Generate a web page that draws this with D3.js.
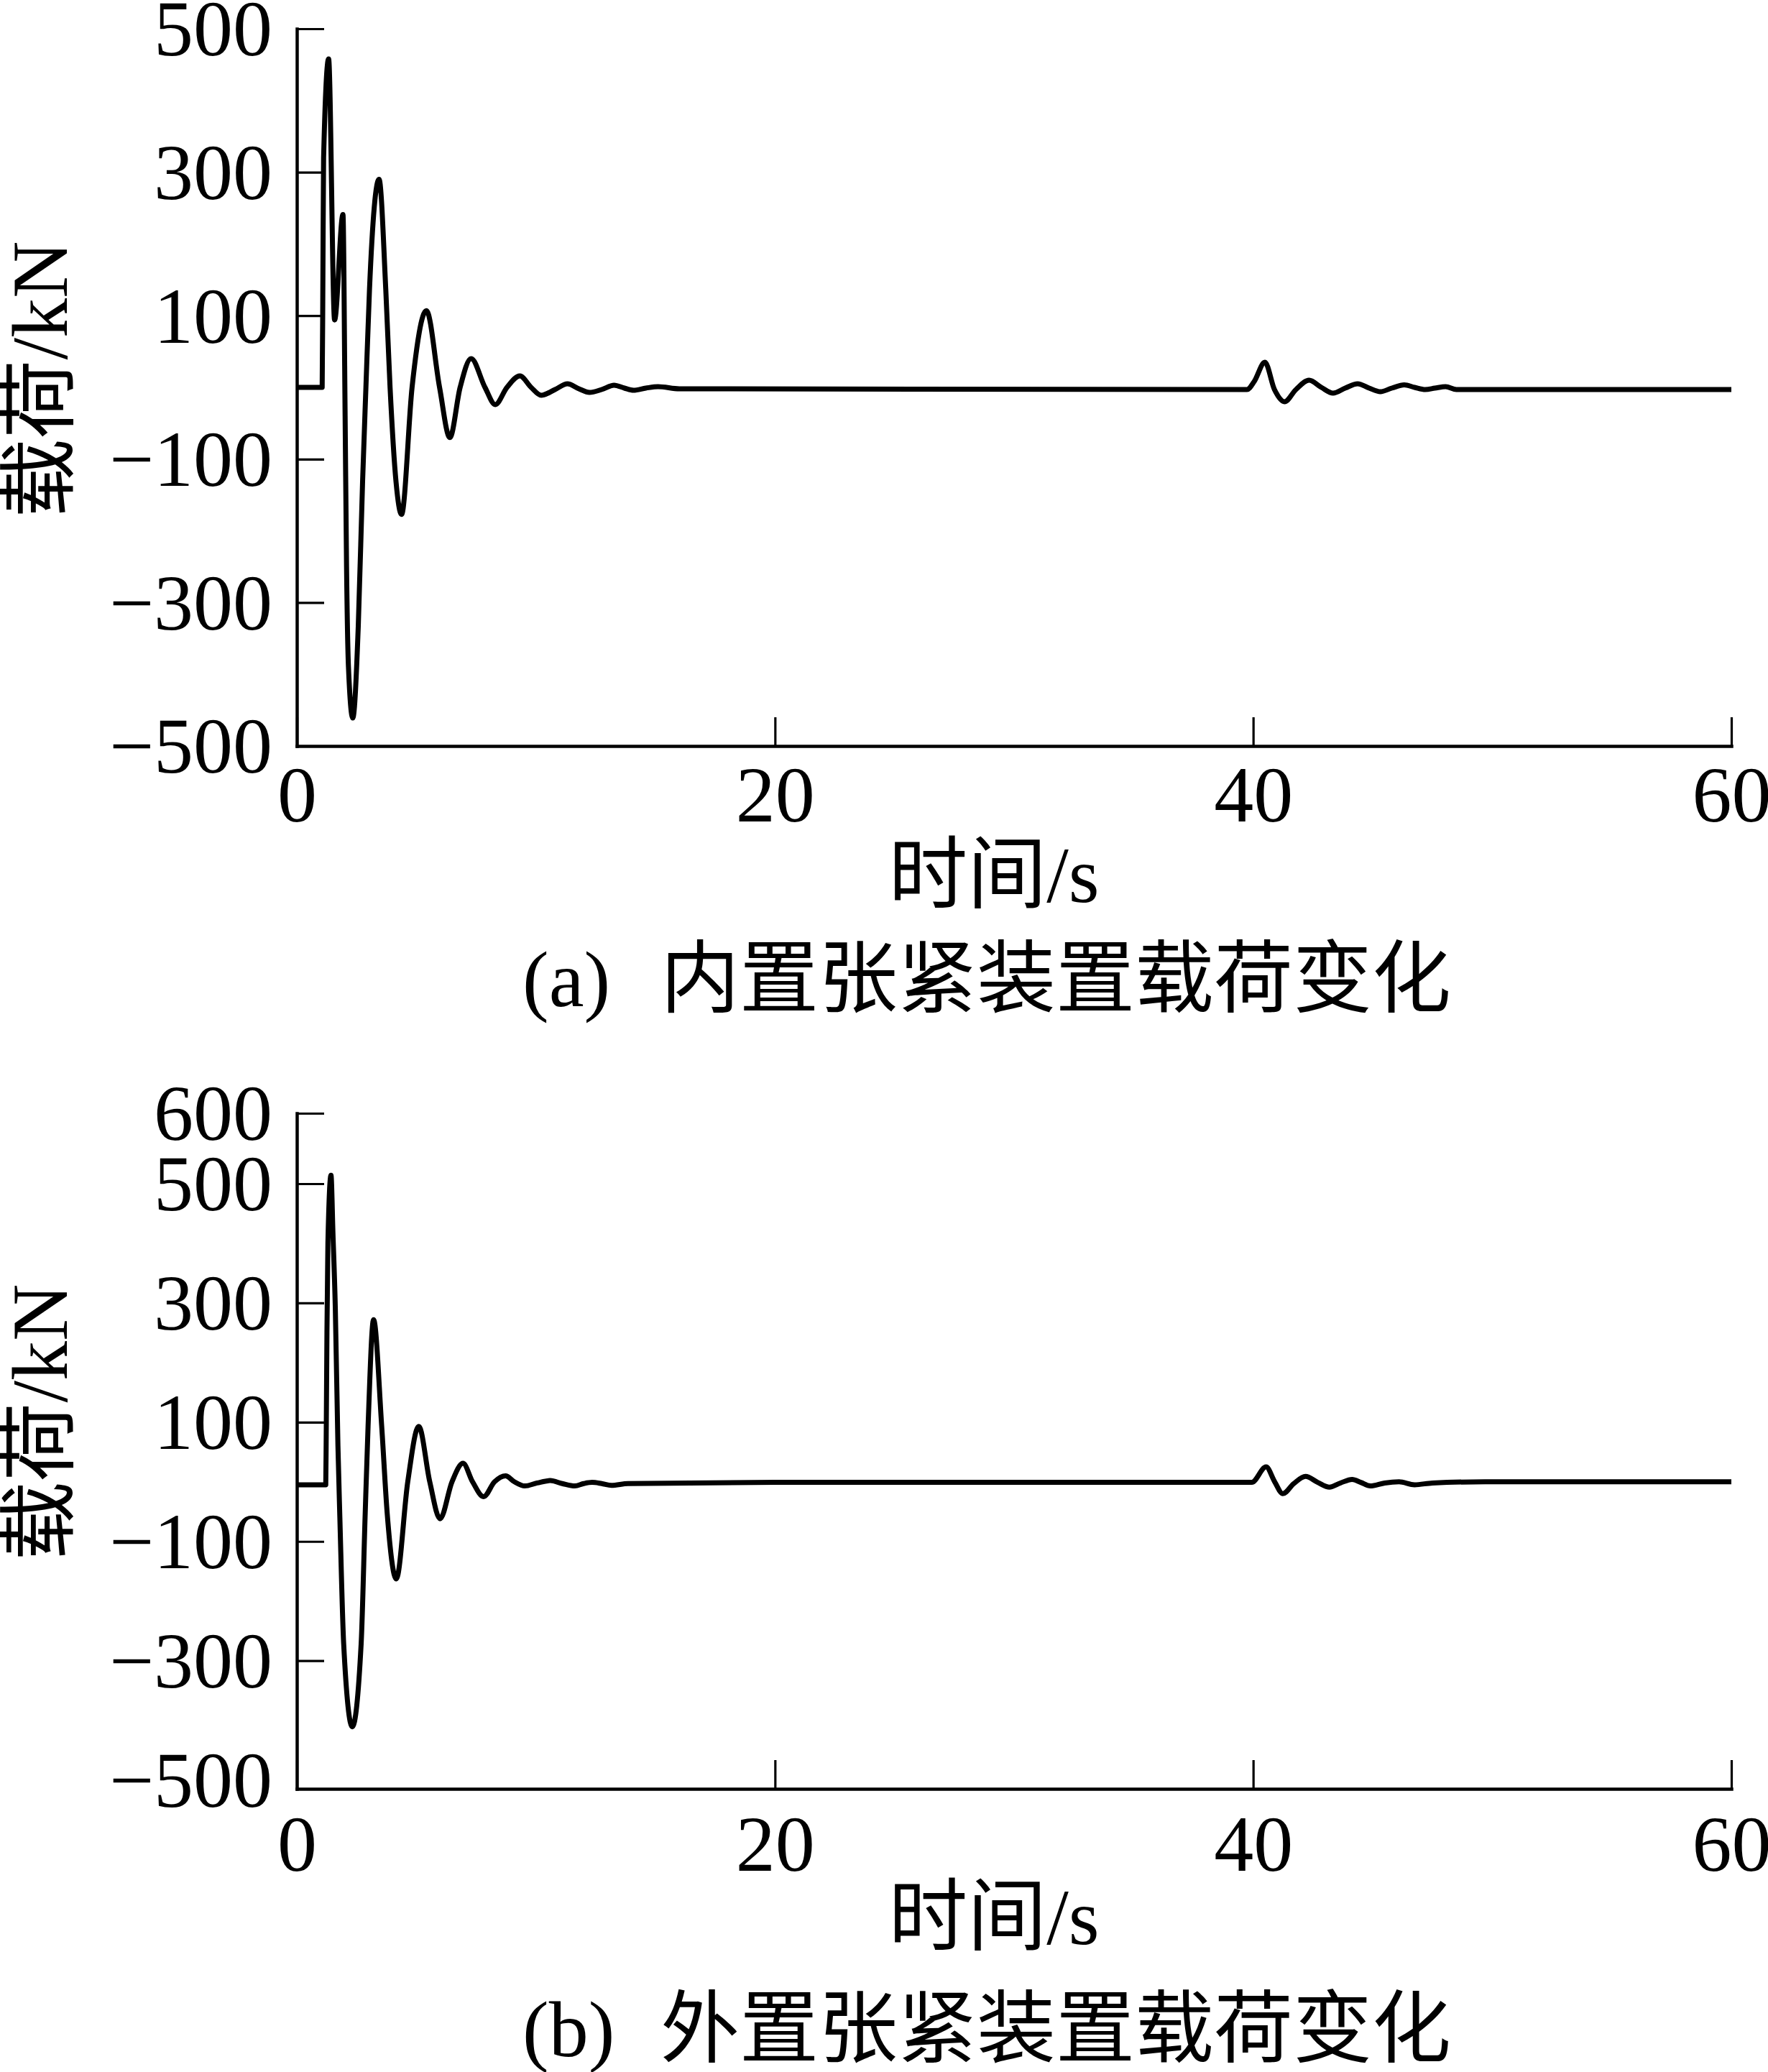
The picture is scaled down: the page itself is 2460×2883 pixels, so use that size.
<!DOCTYPE html>
<html><head><meta charset="utf-8">
<script src="https://cdn.jsdelivr.net/npm/d3@7"></script>
<style>body{margin:0;background:#fff} svg{display:block}</style>
</head><body>
<script>
// ---------- data ----------
const xTicks = [0, 20, 40, 60];
const xTickLabels = ["0", "20", "40", "60"];

const yTicksA = [-500, -300, -100, 100, 300, 500];
const yTickLabelsA = ["−500", "−300", "−100", "100", "300", "500"];
const yTickMarksA = [-300, -100, 100, 300, 500];

const yTicksB = [-500, -300, -100, 100, 300, 500, 600];
const yTickLabelsB = ["−500", "−300", "−100", "100", "300", "500", "600"];
const yTickMarksB = [-300, -100, 100, 300, 500, 600];

// (a) internal tensioner load, kN vs time, s
const timeA = [0, 1.06, 1.09, 1.12, 1.33, 1.58, 1.93, 2.02, 2.08, 2.16, 2.34, 2.57, 2.75, 2.89, 3.04, 3.44,
  3.72, 3.90, 4.15, 4.38, 4.82, 5.42, 5.97, 6.40, 6.83, 7.29, 7.87, 8.30, 8.79, 9.33, 9.80, 10.22,
  10.80, 11.32, 11.80, 12.24, 12.75, 13.27, 13.70, 14.08, 14.60, 15.11, 16.0,
  39.74, 40.04, 40.49, 40.89, 41.31, 41.79, 42.34, 42.85, 43.34, 43.85, 44.37, 44.85, 45.32, 45.8,
  46.32, 46.75, 47.2, 47.6, 48.05, 48.5, 60];
const loadA = [0, 0, 150, 320, 458, 94, 241, -40, -250, -390, -461, -333, -132, 0, 137, 290,
  137, 0, -132, -177, 0, 107, 0, -70, 0, 40, 0, -24, 0, 16, 0, -11,
  -3, 5, -2, -7, -3, 3, -1, -4, -1, 1, -2,
  -3, 8, 35, -3, -20, -3, 10, 0, -8, -1, 5, -1, -6, -1,
  3.5, 0, -3, -1, 1, -3, -3];

// (b) external tensioner load, kN vs time, s
const timeB = [0, 1.21, 1.23, 1.26, 1.30, 1.43, 1.51, 1.61, 1.72, 1.80, 1.96, 2.32, 2.69, 2.86, 2.98, 3.21,
  3.55, 3.78, 4.16, 4.64, 5.10, 5.56, 5.99, 6.49, 6.95, 7.35, 7.81, 8.27, 8.73, 9.10, 9.53, 10.05,
  10.60, 11.10, 11.63, 12.0, 12.35, 12.75, 13.16, 13.85, 20,
  39.94, 40.54, 40.90, 41.24, 41.70, 42.19, 42.70, 43.19, 43.65, 44.14, 44.5, 44.9, 45.5, 46.1,
  46.75, 47.5, 49.7, 60];
const loadB = [-5, -5, 80, 250, 400, 512, 418, 291, 60, -60, -272, -411, -272, -53, 93, 272,
  93, -53, -163, 0, 93, 0, -62, 0, 31, 0, -25, 0, 10, 0, -7, -2,
  2, -3, -7, -3, -1, -3, -6, -3, -1,
  -1, 25, 0, -20, -3, 9, -1, -9, -2, 4, -1, -7, -2, 0,
  -5, -2, 0, 0];

const xTitle = "时间/s";
const yTitle = "载荷/kN";
const captionTags = ["(a)", "(b)"];
const captionTexts = ["内置张紧装置载荷变化", "外置张紧装置载荷变化"];

// ---------- layout ----------
const W = 2460, H = 2883;
const serif = "'Liberation Serif','Times New Roman','Noto Sans CJK SC',serif";
const FS = 110;

const svg = d3.select("body").append("svg")
  .attr("width", W).attr("height", H)
  .attr("viewBox", `0 0 ${W} ${H}`);
svg.append("rect").attr("width", W).attr("height", H).attr("fill", "#fff");

const x = d3.scaleLinear().domain([0, 60]).range([413, 2409]);

const panels = [
  {
    time: timeA, load: loadA,
    y: d3.scaleLinear().domain([-500, 500]).range([1038, 40]),
    ticks: yTicksA, labels: yTickLabelsA, marks: yTickMarksA,
    axisY: 1038, xLabelBase: 1143, xTitleBase: 1255, yTitleCy: 528, capBase: 1400
  },
  {
    time: timeB, load: loadB,
    y: d3.scaleLinear().domain([-515, 500, 600]).range([2489, 1647, 1549]),
    ticks: yTicksB, labels: yTickLabelsB, marks: yTickMarksB,
    axisY: 2489, xLabelBase: 2603, xTitleBase: 2705, yTitleCy: 1979, capBase: 2861
  }
];

panels.forEach((p, i) => {
  const g = svg.append("g");

  // y axis
  const yAxis = d3.axisLeft(p.y)
    .tickValues(p.ticks)
    .tickFormat((d, k) => p.labels[k])
    .tickSizeInner(-38).tickSizeOuter(0).tickPadding(34);
  const gy = g.append("g").attr("transform", `translate(${x(0)},0)`).call(yAxis);
  gy.select(".domain").attr("stroke", "#000").attr("stroke-width", 4.5).attr("stroke-linecap", "square");
  gy.selectAll(".tick line").attr("stroke", "#000").attr("stroke-width", 3.2)
    .attr("display", d => p.marks.includes(d) ? null : "none");
  gy.selectAll(".tick text")
    .attr("font-family", serif).attr("font-size", FS).attr("fill", "#000")
    .attr("dy", "0.336em");

  // x axis
  const xAxis = d3.axisBottom(x)
    .tickValues(xTicks)
    .tickFormat((d, k) => xTickLabels[k])
    .tickSizeInner(-40).tickSizeOuter(0).tickPadding(0);
  const gx = g.append("g").attr("transform", `translate(0,${p.axisY})`).call(xAxis);
  gx.select(".domain").attr("stroke", "#000").attr("stroke-width", 4.5).attr("stroke-linecap", "square");
  gx.selectAll(".tick line").attr("stroke", "#000").attr("stroke-width", 3.2);
  gx.selectAll(".tick text")
    .attr("font-family", serif).attr("font-size", FS).attr("fill", "#000")
    .attr("y", p.xLabelBase - p.axisY).attr("dy", 0);

  // data line
  const pts = p.time.map((t, k) => [t, p.load[k]]);
  const line = d3.line()
    .x(d => x(d[0])).y(d => p.y(d[1]))
    .curve(d3.curveMonotoneX);
  g.append("path").datum(pts)
    .attr("d", line)
    .attr("fill", "none").attr("stroke", "#000")
    .attr("stroke-width", 7).attr("stroke-linejoin", "round");

  // x title
  g.append("text")
    .attr("x", 1383).attr("y", p.xTitleBase)
    .attr("text-anchor", "middle")
    .attr("font-family", serif).attr("font-size", FS).attr("fill", "#000")
    .text(xTitle);

  // y title
  g.append("text")
    .attr("transform", `translate(93,${p.yTitleCy}) rotate(-90)`)
    .attr("text-anchor", "middle")
    .attr("font-family", serif).attr("font-size", FS).attr("fill", "#000")
    .text(yTitle);

  // caption
  const cap = g.append("text")
    .attr("y", p.capBase)
    .attr("font-family", serif).attr("font-size", FS).attr("fill", "#000");
  cap.append("tspan").attr("x", 727).text(captionTags[i]);
  cap.append("tspan").attr("x", 919).text(captionTexts[i]);
});
</script>
</body></html>
